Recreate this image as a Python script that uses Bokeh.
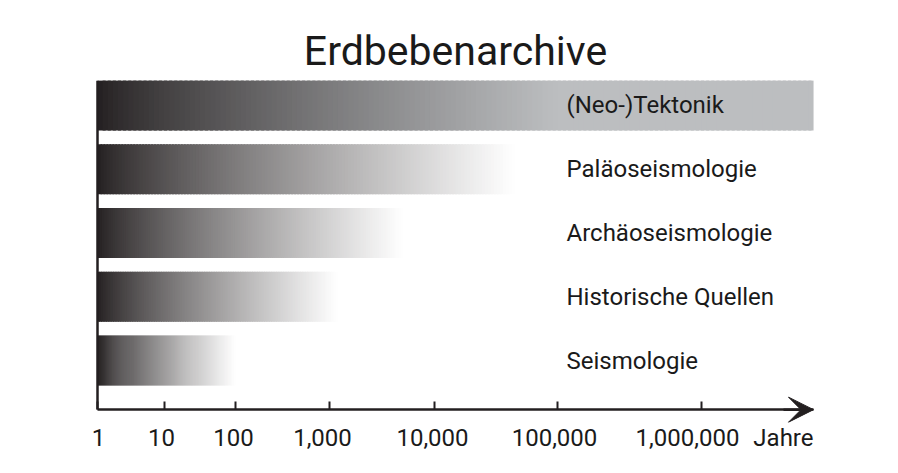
import numpy as np
from bokeh.plotting import figure
from bokeh.models import FixedTicker, Range1d, Arrow, VeeHead, Label, ColumnDataSource, LinearAxis
from bokeh.core.properties import value
from bokeh.embed import file_html
from bokeh.resources import INLINE

# ---- data ----
categories = ["(Neo-)Tektonik", "Paläoseismologie", "Archäoseismologie",
              "Historische Quellen", "Seismologie"]
record_years = [6_000_000, 45_000, 5_000, 1_200, 100]      # how far back each archive reaches
fade_years = [100_000, 45_000, 5_000, 1_200, 100]          # where the shading reaches its end tone
end_tones = ["#bcbec0", "#ffffff", "#ffffff", "#ffffff", "#ffffff"]
tick_years = [1, 10, 100, 1_000, 10_000, 100_000, 1_000_000]
tick_labels = ["1", "10", "100", "1,000", "10,000", "100,000", "1,000,000"]
# drawn (non-uniform) position of each decade on the hand-drawn time axis
tick_pos = [0.0, 0.67, 1.38, 2.32, 3.37, 4.60, 6.04]
# where the hand-set labels sit under those ticks
label_pos = [0.01, 0.64, 1.36, 2.25, 3.35, 4.57, 5.90]
axis_end = 7.16
unit_label = "Jahre"
title_text = "Erdbebenarchive"

DARK = (35, 31, 32)
TXT = "#1a1a1a"
AX = "#231f20"


def year_to_x(y):
    lg = np.log10(y)
    lt = np.log10(tick_years)
    if lg <= lt[-1]:
        return float(np.interp(lg, lt, tick_pos))
    slope = (tick_pos[-1] - tick_pos[-2]) / (lt[-1] - lt[-2])
    return tick_pos[-1] + (lg - lt[-1]) * slope


def hex_to_rgb(h):
    h = h.lstrip("#")
    return tuple(int(h[i:i + 2], 16) for i in (0, 2, 4))


n = len(categories)
ys = [n - 1 - i for i in range(n)]
half_h = 0.392
y_axis_pos = -0.77
y_top = n - 1 + 0.39

left, right, top, bottom, colors = [], [], [], [], []
N = 140
for cat, yr, fy, tone, yc in zip(categories, record_years, fade_years, end_tones, ys):
    x0 = year_to_x(tick_years[0])
    x1 = year_to_x(yr)
    xf = year_to_x(fy)
    edges = np.linspace(x0, x1, N + 1)
    w = edges[1] - edges[0]
    end_rgb = hex_to_rgb(tone)
    for i in range(N):
        xc = 0.5 * (edges[i] + edges[i + 1])
        t = min(max((xc - x0) / (xf - x0), 0.0), 1.0) ** 0.8
        rgb = tuple(int(round(DARK[k] + (end_rgb[k] - DARK[k]) * t)) for k in range(3))
        colors.append("#%02x%02x%02x" % rgb)
        left.append(edges[i])
        right.append(min(edges[i + 1] + 0.6 * w, x1))
        top.append(yc + half_h)
        bottom.append(yc - half_h)

src = ColumnDataSource(dict(left=left, right=right, top=top, bottom=bottom, color=colors))

W, H = 882, 457
p = figure(width=W, height=H, output_backend="svg", toolbar_location=None,
           x_range=Range1d(-0.57, axis_end + 0.57), y_range=Range1d(-1.52, y_top),
           min_border_left=40, min_border_right=12, min_border_top=80, min_border_bottom=0,
           background_fill_color="white", border_fill_color="white")
p.outline_line_color = None
p.xgrid.visible = False
p.ygrid.visible = False

p.quad(left="left", right="right", top="top", bottom="bottom", fill_color="color",
       line_color=None, source=src)

p.text(x=[4.69] * n, y=ys, text=categories, text_font=value("Roboto"),
       text_font_size="24px", text_align="left", text_baseline="middle", text_color=TXT)

# title
p.title.text = title_text
p.title.text_font = "Roboto"
p.title.text_font_size = "41px"
p.title.text_font_style = "normal"
p.title.text_color = TXT
p.title.align = "center"
p.title.standoff = 12

# x axis line with ticks (drawn at the arrow line inside the frame)
xa = p.xaxis[0]
xa.fixed_location = y_axis_pos
xa.bounds = (0, axis_end)
xa.ticker = FixedTicker(ticks=tick_pos)
xa.major_label_text_font_size = "0px"
xa.major_label_text_alpha = 0
xa.major_tick_in = 8
xa.major_tick_out = 0
xa.major_tick_line_width = 2
xa.major_tick_line_color = AX
xa.minor_tick_line_color = None
xa.axis_line_width = 2.5
xa.axis_line_color = AX

# tick labels
xl = LinearAxis(fixed_location=y_axis_pos, ticker=FixedTicker(ticks=label_pos),
                major_label_overrides={pos: lab for pos, lab in zip(label_pos, tick_labels)},
                major_label_text_font="Roboto", major_label_text_font_size="24px",
                major_label_text_color=TXT, major_label_standoff=19,
                axis_line_color=None, major_tick_line_color=None, minor_tick_line_color=None,
                major_tick_in=0, major_tick_out=0)
p.add_layout(xl, "below")

# y axis: plain line
ya = p.yaxis[0]
ya.fixed_location = 0
ya.bounds = (y_axis_pos, y_top)
ya.ticker = FixedTicker(ticks=[])
ya.major_tick_line_color = None
ya.minor_tick_line_color = None
ya.axis_line_width = 2.5
ya.axis_line_color = AX

p.add_layout(Arrow(end=VeeHead(size=25, fill_color=AX, line_color=AX, line_width=1),
                   x_start=axis_end - 0.3, x_end=axis_end, y_start=y_axis_pos, y_end=y_axis_pos,
                   line_color=AX, line_width=2.5))

p.add_layout(Label(x=axis_end, y=y_axis_pos, text=unit_label, text_align="right",
                   text_baseline="middle", y_offset=-28, text_font="Roboto",
                   text_font_size="24px", text_color=TXT))

open("out.html", "w").write(file_html(p, INLINE))
